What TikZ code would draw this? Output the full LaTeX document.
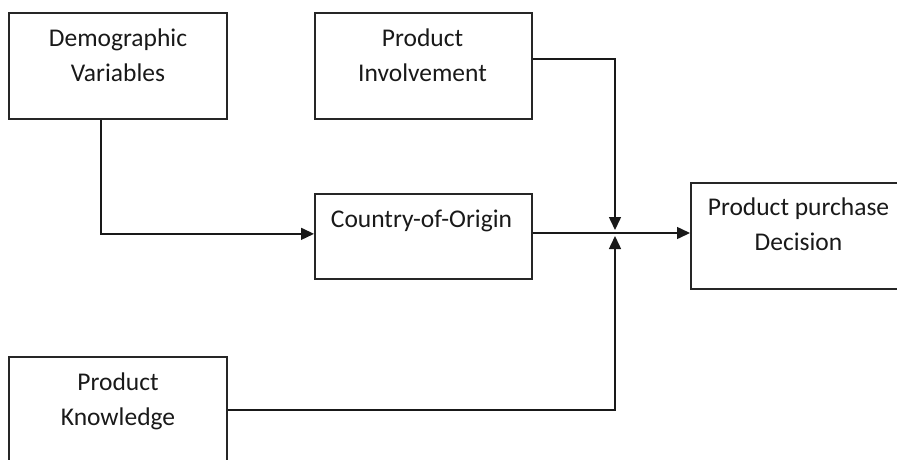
\documentclass[tikz,border=0pt]{standalone}
\usepackage{fontspec}
\setmainfont{Carlito}
\usetikzlibrary{arrows.meta}
\begin{document}
\begin{tikzpicture}[x=1pt,y=-1pt,
  box/.style={draw=black!85, line width=1.7pt, minimum width=217pt, anchor=north west, inner sep=0pt},
  txt/.style={font=\fontsize{25.5pt}{35pt}\selectfont, align=center, anchor=base, text=black!90, inner sep=0pt},
  conn/.style={line width=1.5pt, draw=black!90},
  arr/.style={conn, -{Triangle[length=13pt,width=12pt]}}]
\useasboundingbox (0,0) rectangle (897,459);
\clip (0,0) rectangle (897,459);
% boxes
\node[box, minimum width=218pt, minimum height=106pt] (demo) at (8,12) {};
\node[box, minimum height=106pt] (inv) at (314,12) {};
\node[box, minimum height=85pt] (coo) at (314,193) {};
\node[box, minimum height=106pt] (dec) at (690,182) {};
\node[box, minimum width=218pt, minimum height=106pt] (know) at (8,356) {};
% texts (base anchor = baseline of the last line)
\node[txt] (demotxt) at (118,81) {Demographic\\Variables};
\node[txt] (invtxt) at (422.5,81) {Product\\Involvement};
\node[txt] (cootxt) at (421.5,227) {Country-of-Origin};
\node[txt] (dectxt) at (798.5,250) {Product purchase\\Decision};
\node[txt] (knowtxt) at (118,425) {Product\\Knowledge};
% junction points
\coordinate (j) at (615,233);
\coordinate (jt) at (615,230);
\coordinate (jb) at (615,236);
% connectors
\draw[arr] ([xshift=-17pt]demo.south) |- ([yshift=2.5pt]coo.west);
\draw[arr] ([yshift=7pt]inv.east) -| (jt);
\draw[arr] (j -| coo.east) -- (j -| dec.west);
\draw[arr] (know.east) -| (jb);
\end{tikzpicture}
\end{document}
